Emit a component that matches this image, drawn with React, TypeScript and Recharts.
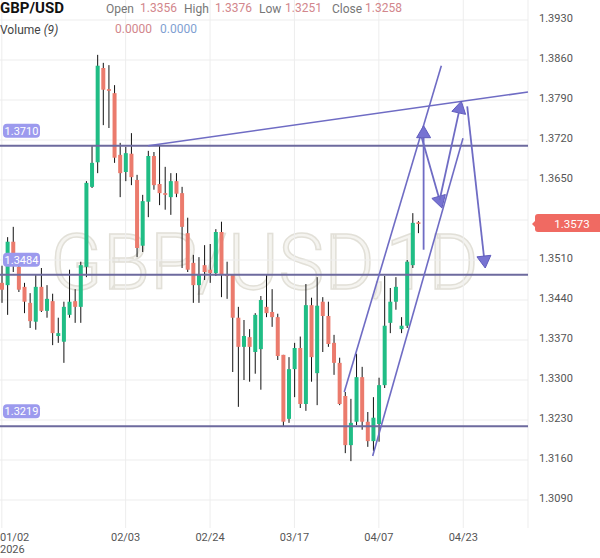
import React from 'react';
import { ComposedChart, Bar, XAxis, YAxis, CartesianGrid, ReferenceLine } from 'recharts';

// GBP/USD daily candles, 01/02 .. 04/16
const opens = [
  1.3470, 1.3466, 1.3542, 1.3498, 1.3463, 1.3435, 1.3402, 1.3463, 1.3421, 1.3438,
  1.3377, 1.3367, 1.3414, 1.3438, 1.3428, 1.3498, 1.3638, 1.3681, 1.3846, 1.3809,
  1.3802, 1.3694, 1.3664, 1.3696, 1.3650, 1.3535, 1.3612, 1.3692, 1.3643, 1.3627,
  1.3620, 1.3648, 1.3627, 1.3557, 1.3505, 1.3466, 1.3501, 1.3493, 1.3487, 1.3559,
  1.3484, 1.3484, 1.3409, 1.3358, 1.3375, 1.3349, 1.3354, 1.3428, 1.3419, 1.3410,
  1.3344, 1.3232, 1.3319, 1.3356, 1.3258, 1.3431, 1.3312, 1.3437, 1.3412, 1.3365,
  1.3330, 1.3272, 1.3186, 1.3227, 1.3305, 1.3227, 1.3193, 1.3223, 1.3291, 1.3400,
  1.3437, 1.3389, 1.3395, 1.3501, 1.3576,
];
const highs = [
  1.3500, 1.3550, 1.3568, 1.3507, 1.3470, 1.3452, 1.3485, 1.3496, 1.3466, 1.3451,
  1.3409, 1.3437, 1.3493, 1.3459, 1.3507, 1.3648, 1.3710, 1.3869, 1.3855, 1.3851,
  1.3816, 1.3715, 1.3708, 1.3732, 1.3659, 1.3624, 1.3701, 1.3699, 1.3711, 1.3673,
  1.3662, 1.3662, 1.3638, 1.3584, 1.3519, 1.3515, 1.3536, 1.3538, 1.3564, 1.3577,
  1.3507, 1.3484, 1.3428, 1.3405, 1.3389, 1.3417, 1.3447, 1.3484, 1.3459, 1.3416,
  1.3344, 1.3340, 1.3365, 1.3376, 1.3468, 1.3444, 1.3480, 1.3445, 1.3437, 1.3379,
  1.3339, 1.3279, 1.3267, 1.3346, 1.3323, 1.3244, 1.3270, 1.3304, 1.3482, 1.3461,
  1.3480, 1.3410, 1.3510, 1.3592, 1.3578,
];
const lows = [
  1.3435, 1.3414, 1.3489, 1.3454, 1.3417, 1.3391, 1.3388, 1.3419, 1.3409, 1.3361,
  1.3365, 1.3330, 1.3409, 1.3400, 1.3400, 1.3480, 1.3636, 1.3662, 1.3746, 1.3741,
  1.3680, 1.3620, 1.3648, 1.3641, 1.3515, 1.3524, 1.3585, 1.3633, 1.3606, 1.3598,
  1.3589, 1.3620, 1.3496, 1.3489, 1.3435, 1.3435, 1.3475, 1.3470, 1.3482, 1.3445,
  1.3442, 1.3314, 1.3253, 1.3300, 1.3297, 1.3311, 1.3283, 1.3410, 1.3393, 1.3335,
  1.3218, 1.3225, 1.3270, 1.3251, 1.3246, 1.3297, 1.3256, 1.3349, 1.3358, 1.3309,
  1.3256, 1.3172, 1.3158, 1.3221, 1.3213, 1.3183, 1.3176, 1.3192, 1.3286, 1.3382,
  1.3423, 1.3382, 1.3391, 1.3496, 1.3557,
];
const closes = [
  1.3458, 1.3542, 1.3501, 1.3458, 1.3437, 1.3403, 1.3463, 1.3421, 1.3442, 1.3382,
  1.3382, 1.3428, 1.3437, 1.3428, 1.3501, 1.3645, 1.3680, 1.3850, 1.3808, 1.3806,
  1.3689, 1.3662, 1.3697, 1.3655, 1.3531, 1.3613, 1.3692, 1.3641, 1.3627, 1.3624,
  1.3648, 1.3626, 1.3568, 1.3493, 1.3466, 1.3485, 1.3489, 1.3487, 1.3559, 1.3484,
  1.3482, 1.3409, 1.3358, 1.3377, 1.3358, 1.3414, 1.3440, 1.3417, 1.3410, 1.3342,
  1.3227, 1.3319, 1.3356, 1.3258, 1.3431, 1.3340, 1.3430, 1.3412, 1.3363, 1.3330,
  1.3258, 1.3186, 1.3225, 1.3305, 1.3227, 1.3193, 1.3234, 1.3291, 1.3395, 1.3437,
  1.3463, 1.3395, 1.3507, 1.3575, 1.3573,
];

// slots on the time axis (past candles + empty future days)
const SLOTS = 94;
const tickIdx = [0, 22, 37, 52, 67, 82];
const tickDates = ['01/02', '02/03', '02/24', '03/17', '04/07', '04/23'];
const priceTicks = [1.309, 1.316, 1.323, 1.33, 1.337, 1.344, 1.351, 1.358, 1.365, 1.372, 1.379, 1.386, 1.393];
const priceDomain = [1.3041, 1.3965];

const levels = [1.371, 1.3484, 1.3219];
const lastPrice = 1.3573;

// drawn trend lines: [[index, price], [index, price]]
const trendLines = [
  [[26, 1.371], [93.5, 1.3804]],
  [[60.85, 1.3279], [78.1, 1.385]],
  [[65.9, 1.3167], [81.95, 1.3723]],
];
const arrows = [
  [[74.95, 1.3528], [74.95, 1.3745]],
  [[74.6, 1.3725], [78.2, 1.3601]],
  [[77.8, 1.3615], [81.65, 1.3788]],
  [[82.7, 1.3779], [85.9, 1.3496]],
];

const GREEN = '#20bd85';
const RED = '#eb7b6d';
const LINE = '#6f6cc4';
const LEVEL = '#6d6a9e';
const FONT = 'Roboto, sans-serif';

const rows = Array.from({ length: SLOTS }, (_, i) =>
  i < opens.length
    ? { i, o: opens[i], h: highs[i], l: lows[i], c: closes[i], range: [lows[i], highs[i]] }
    : { i }
);

const Candle = (props: any) => {
  const { x, y, width, height, payload } = props;
  if (payload == null || payload.o == null) return <g />;
  const { o, h, l, c } = payload;
  const top = Math.min(y, y + height);
  const hgt = Math.abs(height);
  const k = h - l > 0 ? hgt / (h - l) : 0;
  const py = (v: number) => top + (h - v) * k;
  const bTop = py(Math.max(o, c));
  const bBot = py(Math.min(o, c));
  const cx = x + width / 2;
  return (
    <g>
      <line x1={cx} x2={cx} y1={top} y2={top + hgt} stroke="#111" strokeWidth={1} />
      <rect x={x} y={bTop} width={width} height={Math.max(bBot - bTop, 1.2)} fill={c >= o ? GREEN : RED} />
    </g>
  );
};

const Arrow = (p: any) => {
  const { x1, y1, x2, y2 } = p;
  const dx = x2 - x1;
  const dy = y2 - y1;
  const len = Math.hypot(dx, dy) || 1;
  const ux = dx / len;
  const uy = dy / len;
  const hl = 12;
  const hw = 7;
  const bx = x2 - ux * hl;
  const by = y2 - uy * hl;
  return (
    <g>
      <line x1={x1} y1={y1} x2={bx} y2={by} stroke={LINE} strokeWidth={1.8} />
      <polygon
        points={`${x2},${y2} ${bx - uy * hw},${by + ux * hw} ${bx + uy * hw},${by - ux * hw}`}
        fill="#7773d2"
        stroke="#5f5bbd"
        strokeWidth={1}
      />
    </g>
  );
};

const LevelTag = (props: any) => {
  const { viewBox, text } = props;
  const y = viewBox.y;
  return (
    <g>
      <rect x={3} y={y - 22} width={37} height={14} rx={4} fill="#9c9aee" />
      <text x={21.5} y={y - 11} textAnchor="middle" fill="#fff" fontSize={11} fontFamily={FONT}>
        {text}
      </text>
    </g>
  );
};

const DateTick = (props: any) => {
  const { x, y, payload } = props;
  const k = tickIdx.indexOf(payload.value);
  if (k < 0) return <g />;
  if (k === 0) {
    return (
      <g fontFamily={FONT} fontSize={11} fill="#555">
        <text x={0} y={y + 5}>{tickDates[0]}</text>
        <text x={0} y={y + 17}>2026</text>
      </g>
    );
  }
  return (
    <text x={x} y={y + 5} textAnchor="middle" fontFamily={FONT} fontSize={11} fill="#555">
      {tickDates[k]}
    </text>
  );
};

// last price is the final tick, so its red tag is painted over the regular labels
const PriceTick = (props: any) => {
  const { x, y, payload } = props;
  const v = Number(payload.value);
  if (v === lastPrice) {
    const left = x - 1;
    return (
      <g>
        <polygon points={`${left - 3},${y} ${left + 1},${y - 4} ${left + 1},${y + 4}`} fill="#f06a62" />
        <rect x={left} y={y - 10} width={72} height={18} rx={3} fill="#f06a62" />
        <text x={left + 37} y={y + 3.5} textAnchor="middle" fill="#fff" fontSize={11.5} fontFamily={FONT}>
          {v.toFixed(4)}
        </text>
      </g>
    );
  }
  return (
    <text x={x + 3} y={y + 2} fontFamily={FONT} fontSize={11} fill="#555">
      {v.toFixed(4)}
    </text>
  );
};

export default function App() {
  return (
    <div style={{ position: 'absolute', left: 0, top: 0, width: 600, height: 558, overflow: 'hidden', background: '#fff', fontFamily: FONT }}>
      <svg width={600} height={558} style={{ position: 'absolute', left: 0, top: 0 }}>
        <text x={50} y={289} fontSize={77} fontWeight={300} fontFamily={FONT} fill="#f5f4f0" stroke="#e2e0d8" strokeWidth={1.5}>
          GBP/USD,1D
        </text>
      </svg>
      <div style={{ position: 'absolute', left: 0, top: 0 }}>
        <ComposedChart width={600} height={558} data={rows} margin={{ top: 0, right: 0, bottom: 0, left: -1 }}>
          <CartesianGrid stroke="#ededed" horizontalValues={priceTicks} />
          <XAxis dataKey="i" ticks={tickIdx} interval={0} tick={<DateTick />} axisLine={false} tickLine={false} height={30} />
          <XAxis xAxisId="n" type="number" dataKey="i" domain={[-0.5, SLOTS - 0.5]} allowDataOverflow hide />
          <YAxis
            orientation="right"
            domain={priceDomain}
            allowDataOverflow
            ticks={[...priceTicks, lastPrice]}
            interval={0}
            tick={<PriceTick />}
            axisLine={false}
            tickLine={false}
            width={72}
          />
          <Bar dataKey="range" barSize={4} shape={<Candle />} isAnimationActive={false} />
          {levels.map((v) => (
            <ReferenceLine key={v} y={v} stroke={LEVEL} strokeWidth={2} label={<LevelTag text={v.toFixed(4)} />} />
          ))}
          {trendLines.map((s, k) => (
            <ReferenceLine
              key={'t' + k}
              xAxisId="n"
              segment={[{ x: s[0][0], y: s[0][1] }, { x: s[1][0], y: s[1][1] }]}
              stroke={LINE}
              strokeWidth={1.6}
              ifOverflow="visible"
            />
          ))}
          {arrows.map((s, k) => (
            <ReferenceLine
              key={'a' + k}
              xAxisId="n"
              segment={[{ x: s[0][0], y: s[0][1] }, { x: s[1][0], y: s[1][1] }]}
              shape={<Arrow />}
              ifOverflow="visible"
            />
          ))}
        </ComposedChart>
      </div>
      <div style={{ position: 'absolute', left: 0, top: 0, width: 600, height: 40, fontSize: 12, lineHeight: '14px' }}>
        <div style={{ position: 'absolute', left: 0, top: 0, fontSize: 15, fontWeight: 700, color: '#111', lineHeight: '16px' }}>GBP/USD</div>
        <div style={{ position: 'absolute', left: 106, top: 2, color: '#777' }}>Open</div>
        <div style={{ position: 'absolute', left: 140, top: 1, color: '#d2868c' }}>1.3356</div>
        <div style={{ position: 'absolute', left: 184, top: 2, color: '#777' }}>High</div>
        <div style={{ position: 'absolute', left: 215, top: 1, color: '#d2868c' }}>1.3376</div>
        <div style={{ position: 'absolute', left: 259, top: 2, color: '#777' }}>Low</div>
        <div style={{ position: 'absolute', left: 285, top: 1, color: '#d2868c' }}>1.3251</div>
        <div style={{ position: 'absolute', left: 332, top: 2, color: '#777' }}>Close</div>
        <div style={{ position: 'absolute', left: 365, top: 1, color: '#d2868c' }}>1.3258</div>
        <div style={{ position: 'absolute', left: 0, top: 23, color: '#444' }}>
          Volume <i>(9)</i>
        </div>
        <div style={{ position: 'absolute', left: 115, top: 22, color: '#d2868c' }}>0.0000</div>
        <div style={{ position: 'absolute', left: 160, top: 22, color: '#7f9fd2' }}>0.0000</div>
      </div>
    </div>
  );
}
